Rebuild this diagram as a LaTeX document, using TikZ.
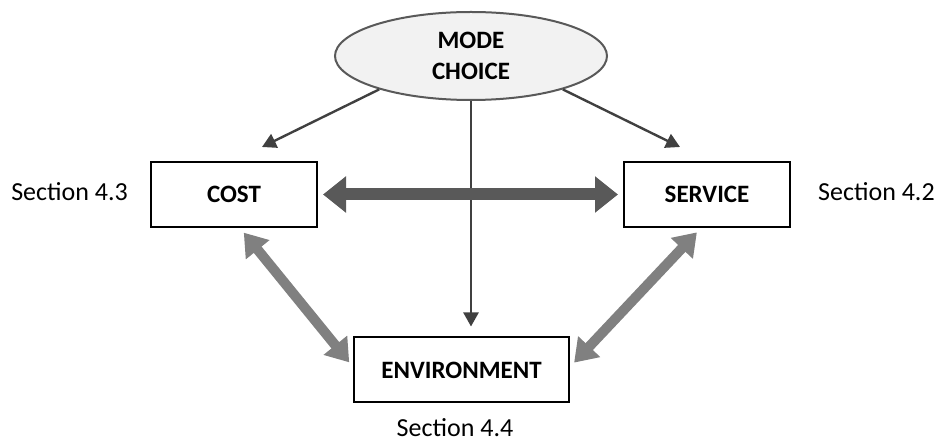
\documentclass[tikz,border=0pt]{standalone}
\usepackage{fontspec}
\setmainfont{Carlito}
\usetikzlibrary{arrows.meta,shapes.geometric}
\definecolor{inkdark}{HTML}{404040}
\definecolor{inkmid}{HTML}{595959}
\definecolor{inksoft}{HTML}{808080}
\definecolor{ovalfill}{HTML}{F2F2F2}
\tikzset{
  box/.style={draw=black, line width=2pt, fill=white, minimum height=65pt,
    font=\fontsize{25}{30}\selectfont\bfseries, inner sep=0pt},
  modeshape/.style={ellipse, draw=inkmid, fill=ovalfill, line width=2pt,
    minimum width=272pt, minimum height=88pt, inner sep=0pt, align=center,
    font=\fontsize{25}{31}\selectfont\bfseries},
  sect/.style={font=\fontsize{26}{30}\selectfont, inner sep=0pt},
  thin/.style={draw=inkdark, line width=2.4pt, -{Triangle[width=15pt,length=14pt]}},
  bold/.style={draw=inkmid, line width=12pt,
    {Triangle[width=35pt,length=23pt]}-{Triangle[width=35pt,length=23pt]}},
  soft/.style={draw=inksoft, line width=10pt,
    {Triangle[width=29pt,length=22pt]}-{Triangle[width=29pt,length=22pt]}},
}
\begin{document}
\begin{tikzpicture}[x=1pt,y=-1pt]
  \useasboundingbox (0,0) rectangle (940,443);
  % central node and the three topics
  \node[modeshape] (mode) at (471,56) {MODE\\CHOICE};
  \node[box, minimum width=166pt] (cost) at (234,194.5) {COST};
  \node[box, minimum width=166pt] (service) at (707,194.5) {SERVICE};
  \node[box, minimum width=215pt] (env) at (461.5,370) {ENVIRONMENT};
  % section references
  \node[sect, anchor=east] (s43) at (128,192) {Section 4.3};
  \node[sect, anchor=west] (s42) at (818,192) {Section 4.2};
  \node[sect, anchor=base] (s44) at (455,436) {Section 4.4};
  % arrow ends above the boxes
  \coordinate (costtip) at (262,147);
  \coordinate (servtip) at (680,147);
  % influence of mode choice
  \draw[thin] (mode.200) -- (costtip);
  \draw[thin] (mode.340) -- (servtip);
  \draw[thin, shorten >=10pt] (mode.south) -- (mode.south |- env.north);
  % trade-offs between the topics
  \draw[bold, shorten <=5pt, shorten >=5pt] (cost.east) -- (service.west);
  \draw[soft, shorten <=6pt, shorten >=6pt] ([xshift=6pt]cost.south) -- ([yshift=3pt]env.west);
  \draw[soft, shorten <=6pt, shorten >=6pt] ([xshift=-6pt]service.south) -- ([yshift=3pt]env.east);
\end{tikzpicture}
\end{document}
